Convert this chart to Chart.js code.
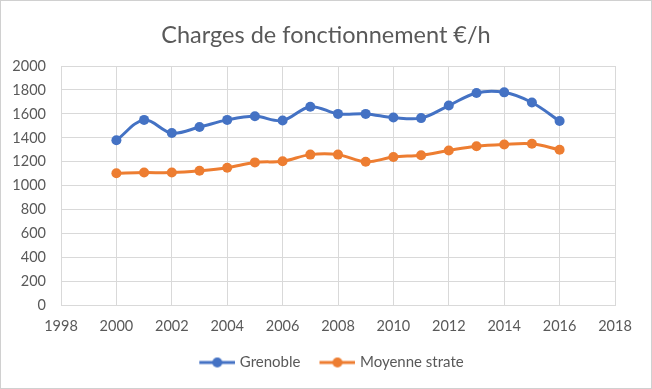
<!DOCTYPE html>
<html>
<head>
<meta charset="utf-8">
<script src="https://cdn.jsdelivr.net/npm/chart.js@4"></script>
<style>
  html, body { margin: 0; padding: 0; background: #ffffff; }
  #wrap { width: 650px; height: 387px; border: 1px solid #d0d0d0; position: relative; background:#fff; }
  canvas { display: block; }
</style>
</head>
<body>
<div id="wrap"><canvas id="c" width="650" height="387"></canvas></div>
<script>
const years = [2000, 2001, 2002, 2003, 2004, 2005, 2006, 2007, 2008, 2009, 2010, 2011, 2012, 2013, 2014, 2015, 2016];
const grenoble = [1380, 1550, 1440, 1490, 1550, 1580, 1545, 1660, 1600, 1600, 1570, 1565, 1670, 1775, 1780, 1695, 1540];
const moyenneStrate = [1105, 1110, 1110, 1125, 1150, 1195, 1205, 1260, 1260, 1200, 1240, 1255, 1295, 1330, 1345, 1350, 1300];
const seriesNames = ['Grenoble', 'Moyenne strate'];
const seriesColors = ['#4472C4', '#ED7D31'];
const titleText = 'Charges de fonctionnement €/h';

const textColor = '#595959';
const gridColor = '#d9d9d9';
const FONT = 'Lato';

function toPoints(xs, ys) { return xs.map((x, i) => ({x: x, y: ys[i]})); }

function legendMarker(color) {
  const cv = document.createElement('canvas');
  cv.width = 50; cv.height = 14;
  const g = cv.getContext('2d');
  g.strokeStyle = color; g.lineWidth = 3;
  g.beginPath(); g.moveTo(14, 7); g.lineTo(50, 7); g.stroke();
  g.fillStyle = color;
  g.beginPath(); g.arc(32, 7, 5, 0, Math.PI * 2); g.fill();
  return cv;
}
const markers = seriesColors.map(legendMarker);

new Chart(document.getElementById('c'), {
  type: 'scatter',
  data: {
    datasets: [
      { label: seriesNames[0], data: toPoints(years, grenoble) },
      { label: seriesNames[1], data: toPoints(years, moyenneStrate) }
    ].map((d, i) => Object.assign(d, {
      showLine: true,
      borderColor: seriesColors[i],
      backgroundColor: seriesColors[i],
      borderWidth: 3,
      pointRadius: 5,
      pointBorderWidth: 0,
      pointHoverRadius: 5,
      tension: 0.35
    }))
  },
  options: {
    responsive: false,
    animation: false,
    layout: { padding: { left: 0, right: 0, top: 0, bottom: 8 } },
    plugins: {
      tooltip: { enabled: false },
      title: {
        display: true,
        text: titleText,
        color: textColor,
        font: { family: FONT, size: 23.5, weight: 'normal', lineHeight: 1.2 },
        padding: { top: 19.9, bottom: 16.9 }
      },
      legend: {
        position: 'bottom',
        labels: {
          usePointStyle: true,
          pointStyleWidth: 44,
          padding: 8,
          color: textColor,
          font: { family: FONT, size: 15 },
          generateLabels: (chart) => {
            const items = Chart.defaults.plugins.legend.labels.generateLabels(chart);
            items.forEach((it, i) => { it.pointStyle = markers[i]; });
            return items;
          }
        }
      }
    },
    scales: {
      x: {
        type: 'linear',
        min: 1998, max: 2018,
        afterFit: (s) => { s.height = 41.5; },
        ticks: {
          stepSize: 2,
          color: textColor,
          font: { family: FONT, size: 14.5 },
          padding: 12,
          maxRotation: 0,
          callback: (v) => String(v)
        },
        grid: { color: gridColor, drawTicks: false },
        border: { color: gridColor }
      },
      y: {
        min: 0, max: 2000,
        afterFit: (s) => { s.width = 60; },
        ticks: {
          stepSize: 200,
          color: textColor,
          font: { family: FONT, size: 14.5 },
          padding: 15,
          callback: (v) => String(v)
        },
        grid: { color: gridColor, drawTicks: false },
        border: { color: gridColor }
      },
      yRightSpace: {
        position: 'right',
        min: 0, max: 2000,
        afterFit: (s) => { s.width = 36; },
        ticks: { display: false },
        grid: { display: false, drawTicks: false },
        border: { display: false }
      }
    }
  }
});
</script>
</body>
</html>
